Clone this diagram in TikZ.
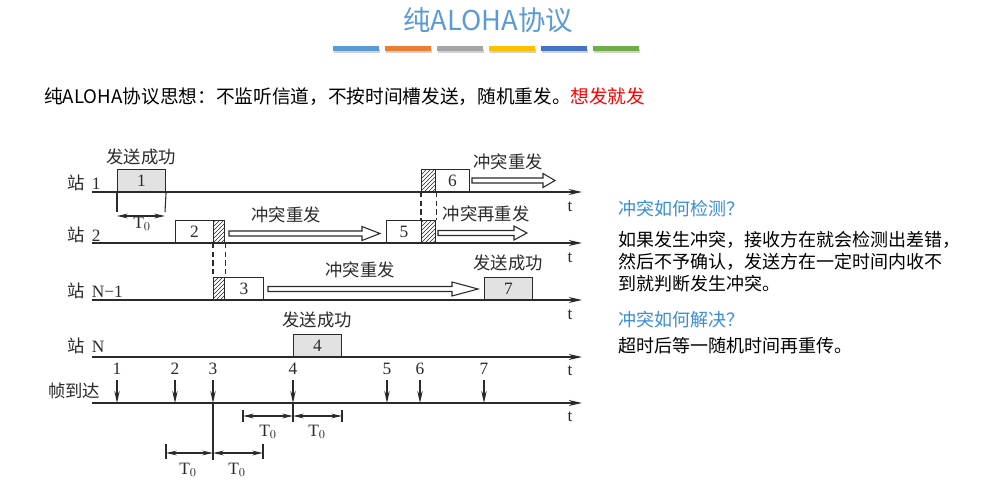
\documentclass[tikz,border=0pt]{standalone}
\usepackage{fontspec}
\setmainfont{Liberation Serif}
\newfontfamily\cjk{Noto Sans CJK SC}
\usetikzlibrary{patterns,arrows.meta}
\definecolor{titleblue}{HTML}{5B9BD5}
\definecolor{askblue}{HTML}{3A8ED4}
\definecolor{ink}{HTML}{2A2A2A}
\definecolor{boxgray}{HTML}{E2E2E2}
\definecolor{barA}{HTML}{5B9BD5}
\definecolor{barB}{HTML}{ED7D31}
\definecolor{barC}{HTML}{A5A5A5}
\definecolor{barD}{HTML}{FFC000}
\definecolor{barE}{HTML}{4472C4}
\definecolor{barF}{HTML}{70AD47}
\tikzset{
  serif/.style={font=\fontsize{13}{15}\selectfont, text=ink, inner sep=0pt},
  cn/.style={font=\cjk\fontsize{13}{15}\selectfont, text=ink, inner sep=0pt},
  body/.style={font=\cjk\fontsize{13.5}{16}\selectfont, text=black, inner sep=0pt, anchor=west},
  ask/.style={body, text=askblue},
  frame/.style={draw=ink, line width=0.8pt, minimum height=16.5pt, inner sep=0pt,
    anchor=south west, font=\fontsize{13}{15}\selectfont, text=ink},
  hatch/.style={frame, pattern=north east lines, pattern color=ink},
  axis/.style={draw=ink, line width=1.1pt, -{Stealth[length=10pt,width=4.5pt]}},
  dimline/.style={draw=ink, line width=0.8pt, {Stealth[length=8pt,width=3.5pt]}-{Stealth[length=8pt,width=3.5pt]}},
  tick/.style={draw=ink, line width=0.8pt},
  arrive/.style={draw=ink, line width=0.8pt, -{Stealth[length=9pt,width=4pt]}},
  retry/.style={draw=ink, line width=0.8pt, fill=white, line join=miter},
  sync/.style={draw=ink, line width=0.8pt, dash pattern=on 4pt off 2.5pt}
}
% hollow retransmission arrow: start x, end x, centre y, head length
\newcommand\hollowarrow[4]{%
  \draw[retry] (#1,#3-2.5) -- ({#2-#4},#3-2.5) -- ({#2-#4},#3-7) -- (#2,#3)
    -- ({#2-#4},#3+7) -- ({#2-#4},#3+2.5) -- (#1,#3+2.5) -- cycle;}
\begin{document}
\begin{tikzpicture}[x=0.75pt,y=-0.75pt]
\useasboundingbox (0,0) rectangle (986,492);
\fill[white] (0,0) rectangle (986,492);

% heading and colour strip
\node[font=\cjk\fontsize{20.5}{24}\selectfont, text=titleblue, inner sep=0pt] (title) at (488,20) {纯ALOHA协议};
\foreach \c [count=\i from 0] in {barA,barB,barC,barD,barE,barF}{
  \fill[black!18] (333+52*\i+1,49) rectangle (379+52*\i+1,53);
  \fill[\c] (333+52*\i,46) rectangle (379+52*\i,51);
}
\node[body, font=\cjk\fontsize{14}{16}\selectfont] (idea) at (44,97) {纯ALOHA协议思想：不监听信道，不按时间槽发送，随机重发。\textcolor{red}{想发就发}};

% station labels
\node[cn, anchor=west] (s1) at (67,183) {站\,\fontspec{Liberation Serif}~1};
\node[cn, anchor=west] (s2) at (67,235) {站\,\fontspec{Liberation Serif}~2};
\node[cn, anchor=west] (s3) at (67,291) {站\,\fontspec{Liberation Serif}~N−1};
\node[cn, anchor=west] (s4) at (67,346) {站\,\fontspec{Liberation Serif}~N};
\node[cn, anchor=west] (s5) at (48,391) {帧到达};

% time axes
\foreach \n/\y/\ty in {1/192/207,2/243/258,3/300/315,4/357/371,5/403/417}{
  \coordinate (a\n) at (92,\y);
  \coordinate (b\n) at (582,\y);
  \draw[axis] (a\n) -- (b\n);
  \node[serif] (t\n) at (570,\ty) {t};
}

% station 1
\node[frame, fill=boxgray, minimum width=36pt] (f1) at (117,192) {1};
\node[cn] (ok1) at (141,157) {发送成功};
\coordinate (d1a) at (117,212);
\coordinate (d1b) at (165,212);
\draw[tick] (f1.south west) -- (d1a);
\draw[tick] (f1.south east) -- (d1b);
\draw[dimline] ([yshift=-3pt]d1a) -- ([yshift=-3pt]d1b);
\node[serif] (T1) at (142,224) {T$_0$};

% station 2
\node[frame, fill=white, minimum width=28.5pt] (f2) at (175,243) {2};
\node[hatch, minimum width=8.25pt] (h2) at (213,243) {};
\hollowarrow{229}{380}{233.5}{18}
\node[cn] (re2) at (286,215) {冲突重发};
\node[frame, fill=white, minimum width=26.25pt] (f5) at (386,243) {5};
\node[hatch, minimum width=10.5pt] (h5) at (421,243) {};
\hollowarrow{438}{527}{233}{13}
\node[cn] (re5) at (486,214) {冲突再重发};

% station N-1
\node[hatch, minimum width=8.25pt] (h3) at (213,300) {};
\node[frame, fill=white, minimum width=29.25pt] (f3) at (224,300) {3};
\hollowarrow{268}{478}{289}{26}
\node[cn] (re3) at (360,270) {冲突重发};
\node[frame, fill=boxgray, minimum width=36pt] (f7) at (484,300) {7};
\node[cn] (ok7) at (508,263) {发送成功};

% station 1, late collision
\node[hatch, minimum width=10.5pt] (h6) at (421,192) {};
\node[frame, fill=white, minimum width=25.5pt] (f6) at (435,192) {6};
\hollowarrow{472}{555}{180.5}{12}
\node[cn] (re6) at (508,162) {冲突重发};

% collision overlaps
\draw[sync] (h2.south west) -- (h3.north west);
\draw[sync] (h2.south east) -- (h3.north east);
\draw[sync] (h6.south west) -- (h5.north west);
\draw[sync] (h6.south east) -- (h5.north east);

% station N
\node[frame, fill=boxgray, minimum width=36pt] (f4) at (293,357) {4};
\node[cn] (ok4) at (317,320) {发送成功};

% frame arrivals
\foreach \k/\x in {1/117,2/175,3/213,4/293,5/387,6/420,7/484}{
  \node[serif] (n\k) at (\x,369) {\k};
  \coordinate (p\k) at (\x,380);
  \coordinate (q\k) at (\x,403);
  \draw[arrive] (p\k) -- (q\k);
}

% vulnerable period around frames 3 and 4
\coordinate (v3) at (213,460);
\draw[tick] (q3) -- (v3);
\coordinate (u1) at (243,416);
\coordinate (u2) at (293,416);
\coordinate (u3) at (342,416);
\draw[tick] (243,410) -- (243,422);
\draw[tick] (q4) -- (293,422);
\draw[tick] (342,410) -- (342,422);
\draw[dimline] (u1) -- (u2);
\draw[dimline] (u2) -- (u3);
\node[serif] (T2) at (268,432) {T$_0$};
\node[serif] (T3) at (317,432) {T$_0$};
\coordinate (w1) at (166,453);
\coordinate (w2) at (213,453);
\coordinate (w3) at (263,453);
\draw[tick] (166,444) -- (166,459);
\draw[tick] (263,444) -- (263,459);
\draw[dimline] (w1) -- (w2);
\draw[dimline] (w2) -- (w3);
\node[serif] (T4) at (188,470) {T$_0$};
\node[serif] (T5) at (237,470) {T$_0$};

% notes
\node[ask] (q1) at (618,209) {冲突如何检测？};
\node[body] (l1) at (618,240) {如果发生冲突，接收方在就会检测出差错，};
\node[body] (l2) at (618,262) {然后不予确认，发送方在一定时间内收不};
\node[body] (l3) at (618,284) {到就判断发生冲突。};
\node[ask] (q2) at (618,320) {冲突如何解决？};
\node[body] (l4) at (618,346) {超时后等一随机时间再重传。};
\end{tikzpicture}
\end{document}
